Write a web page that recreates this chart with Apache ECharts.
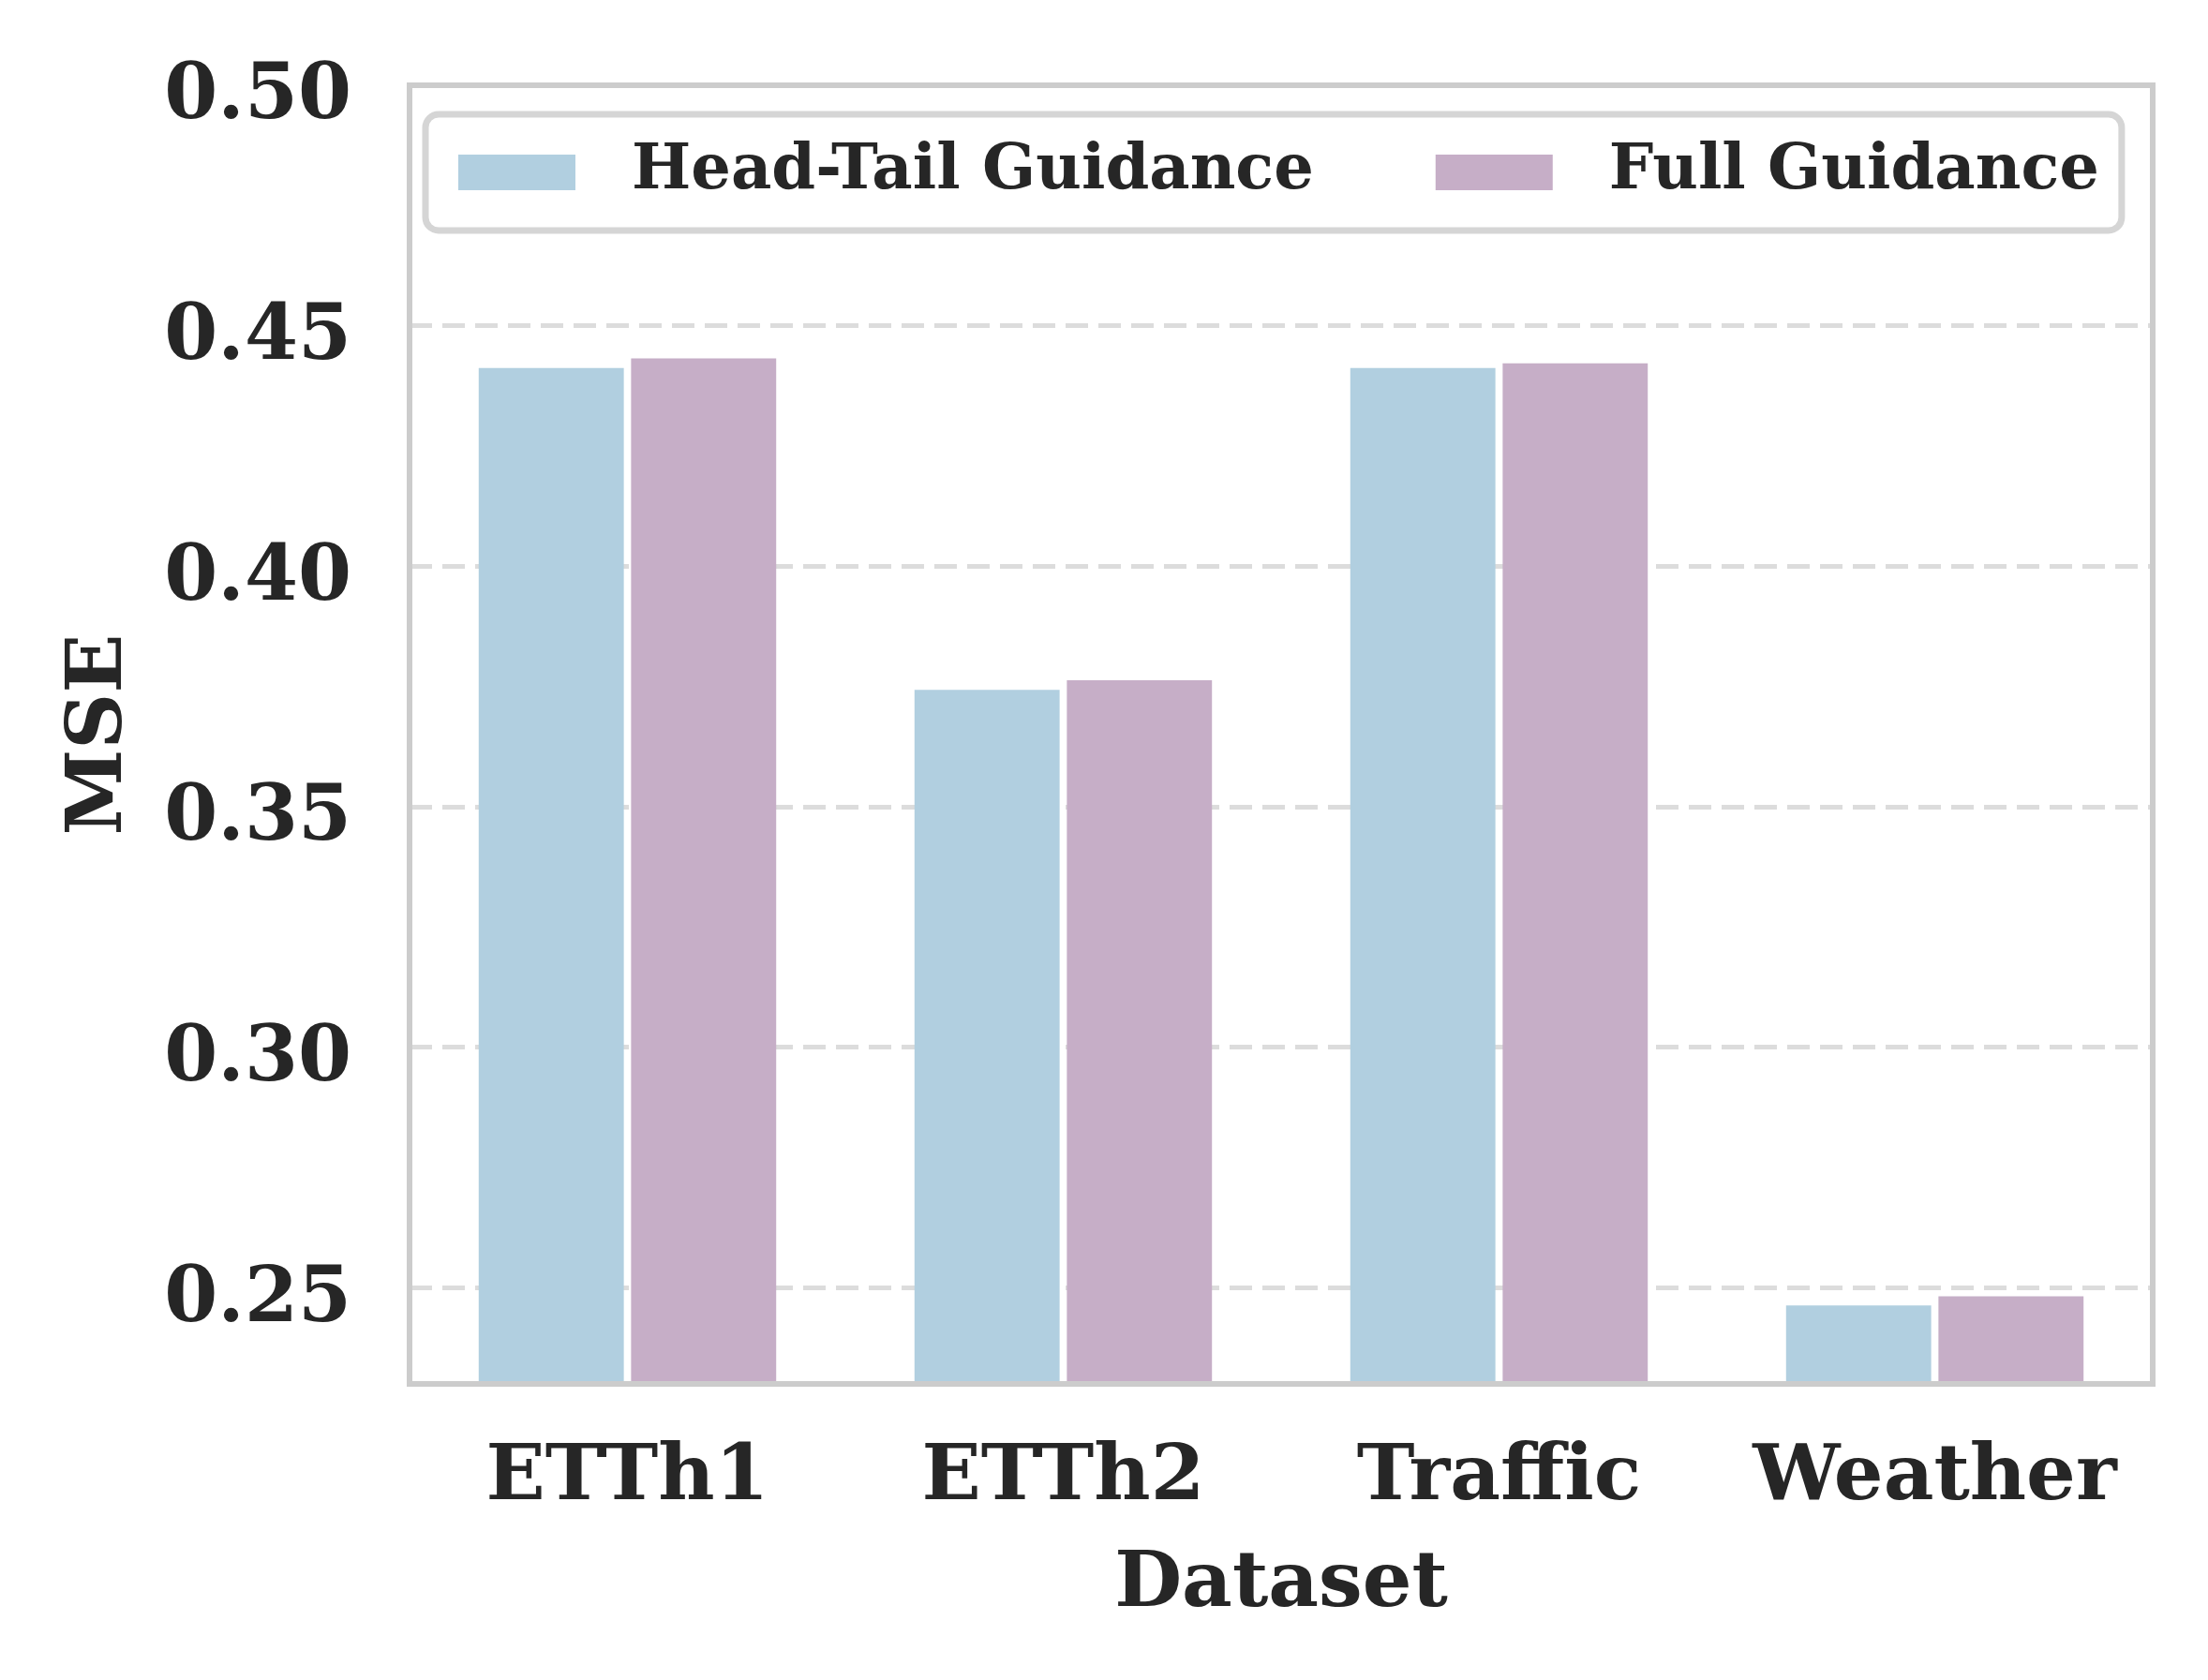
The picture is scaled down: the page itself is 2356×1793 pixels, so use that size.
<!DOCTYPE html>
<html>
<head>
<meta charset="utf-8">
<script src="https://cdn.jsdelivr.net/npm/echarts@6/dist/echarts.min.js"></script>
<style>
html,body{margin:0;padding:0;background:#fff;}
#c{width:2356px;height:1793px;}
</style>
</head>
<body>
<div id="c"></div>
<script>
const categories = ['ETTh1', 'ETTh2', 'Traffic', 'Weather'];
const seriesNames = ['Head-Tail Guidance', 'Full Guidance'];
const headTail = [0.4412, 0.3743, 0.4412, 0.2463];
const fullGuidance = [0.4432, 0.3763, 0.4422, 0.2482];
const yMin = 0.23, yMax = 0.50;

const FONT = 'DejaVu Serif';
const TXT = '#262626';

const chart = echarts.init(document.getElementById('c'), null, {renderer: 'canvas'});
chart.setOption({
  animation: false,
  backgroundColor: '#ffffff',
  grid: {
    left: 437, right: 59, top: 91, bottom: 316,
    show: true, borderColor: '#cccccc', borderWidth: 6,
    backgroundColor: 'transparent', z: 10
  },
  legend: {
    left: 454, top: 122,
    orient: 'horizontal',
    icon: 'rect',
    itemWidth: 125, itemHeight: 38, itemGap: 130,
    padding: [22, 24, 22, 35],
    backgroundColor: '#ffffff',
    borderColor: '#d5d5d5', borderWidth: 7, borderRadius: 14,
    textStyle: {fontFamily: FONT, fontWeight: 'bold', fontSize: 67, color: TXT,
                lineHeight: 80, padding: [0, 0, 0, 55]},
    data: seriesNames
  },
  xAxis: {
    type: 'category',
    data: categories,
    name: 'Dataset',
    nameLocation: 'middle',
    nameGap: 174,
    nameTextStyle: {fontFamily: FONT, fontWeight: 'bold', fontSize: 83, color: TXT},
    axisLine: {show: false},
    axisTick: {show: false},
    splitLine: {show: false},
    axisLabel: {interval: 0, fontFamily: FONT, fontWeight: 'bold', fontSize: 83, color: TXT, margin: 60}
  },
  yAxis: {
    type: 'value',
    min: yMin, max: yMax,
    splitNumber: 5,
    name: 'MSE',
    nameLocation: 'middle',
    nameGap: 288,
    nameRotate: 90,
    nameTextStyle: {fontFamily: FONT, fontWeight: 'bold', fontSize: 83, color: TXT},
    axisLine: {show: false},
    axisTick: {show: false},
    axisLabel: {
      fontFamily: FONT, fontWeight: 'bold', fontSize: 82, color: TXT, margin: 62,
      verticalAlign: 'top', lineHeight: 28,
      showMinLabel: false,
      formatter: function (v) {
        const k = v * 20;
        return Math.abs(k - Math.round(k)) < 1e-6 ? v.toFixed(2) : '';
      }
    },
    splitLine: {show: true, lineStyle: {color: '#dcdcdc', width: 5, type: [24, 11]}}
  },
  series: [
    {
      name: seriesNames[0], type: 'bar', data: headTail,
      barWidth: '33.3%', barGap: '5%',
      itemStyle: {color: '#b1cfe0'}
    },
    {
      name: seriesNames[1], type: 'bar', data: fullGuidance,
      barWidth: '33.3%', barGap: '5%',
      itemStyle: {color: '#c6aec7'}
    }
  ]
});
</script>
</body>
</html>
